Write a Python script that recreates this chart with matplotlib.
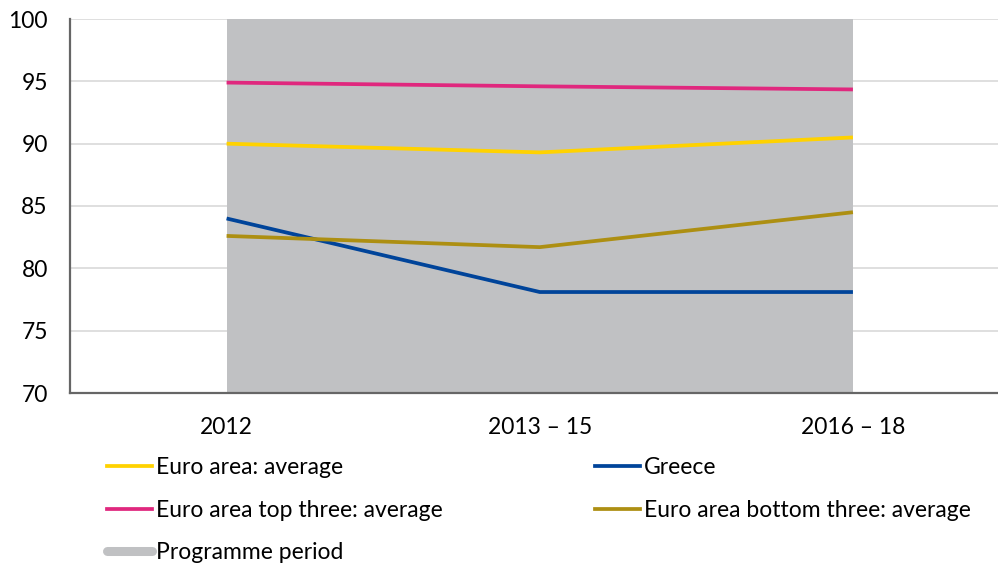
import matplotlib
matplotlib.use("Agg")
import matplotlib.pyplot as plt
from matplotlib.lines import Line2D

plt.rcParams['font.family'] = ['Lato', 'DejaVu Sans']

categories = ["2012", "2013 – 15", "2016 – 18"]
euro_avg = [90.0, 89.3, 90.5]
greece = [84.0, 78.1, 78.1]
top_three = [94.9, 94.6, 94.35]
bottom_three = [82.6, 81.7, 84.5]
programme_start, programme_end = 0, 2

c_yellow = "#FFD200"
c_pink = "#E0287E"
c_blue = "#00449A"
c_olive = "#AD8F12"
c_grey = "#C0C1C3"

fig = plt.figure(figsize=(9.98, 5.63), dpi=100)
ax = fig.add_axes([70/998, 1-393/563, 1-70/998, (393-19)/563])

x = list(range(len(categories)))
ax.axvspan(programme_start, programme_end, color=c_grey, zorder=1, lw=0)
lw = 2.7
ax.plot(x, euro_avg, color=c_yellow, lw=lw, zorder=3, solid_capstyle='butt')
ax.plot(x, top_three, color=c_pink, lw=lw, zorder=3, solid_capstyle='butt')
ax.plot(x, greece, color=c_blue, lw=lw, zorder=3, solid_capstyle='butt')
ax.plot(x, bottom_three, color=c_olive, lw=lw, zorder=3, solid_capstyle='butt')

ax.set_xlim(-0.5, (998-227)/313)
ax.set_ylim(70, 100)
ax.set_yticks(range(70, 101, 5))
ax.set_xticks(x)
ax.set_xticklabels(categories)
ax.yaxis.grid(True, color="#D9D9D9", lw=1.2, zorder=0)
ax.set_axisbelow(True)
for s in ["top", "right"]:
    ax.spines[s].set_visible(False)
for s in ["left", "bottom"]:
    ax.spines[s].set_color("#666666")
    ax.spines[s].set_linewidth(1.6)
    ax.spines[s].set_zorder(4)
fs = 16.5
ax.tick_params(axis='both', length=0, labelsize=fs, colors="black")
ax.tick_params(axis='x', pad=17)
ax.tick_params(axis='y', pad=16)

h1 = [Line2D([], [], color=c_yellow, lw=lw),
      Line2D([], [], color=c_pink, lw=lw),
      Line2D([], [], color=c_grey, lw=6.5, solid_capstyle='round')]
l1 = ["Euro area: average", "Euro area top three: average", "Programme period"]
h2 = [Line2D([], [], color=c_blue, lw=lw),
      Line2D([], [], color=c_olive, lw=lw)]
l2 = ["Greece", "Euro area bottom three: average"]

kw = dict(frameon=False, fontsize=fs, handlelength=1.95, handletextpad=0.2,
          labelspacing=0.94, borderpad=0, borderaxespad=0, loc="upper left")
leg1 = fig.legend(h1, l1, bbox_to_anchor=(107/998, 1-457/563), **kw)
leg2 = fig.legend(h2, l2, bbox_to_anchor=(595/998, 1-457/563), **kw)

fig.savefig("out.png", dpi=100)
